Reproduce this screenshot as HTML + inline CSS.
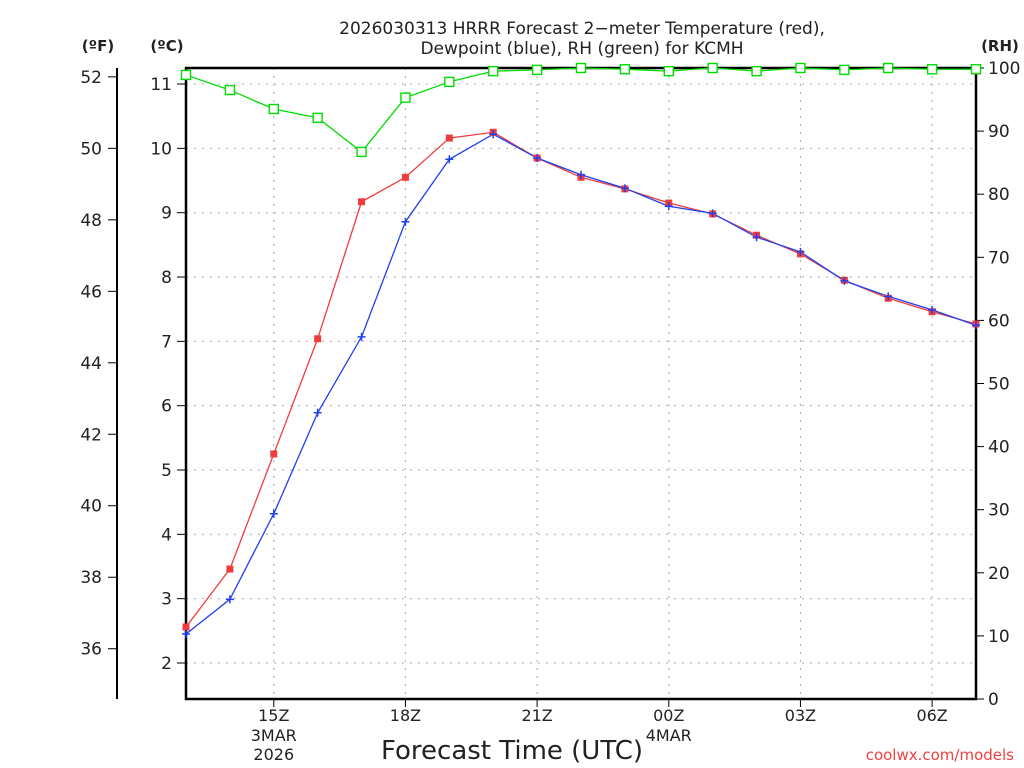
<!DOCTYPE html>
<html><head><meta charset="utf-8"><style>
body{margin:0;background:#fff;}
svg{display:block;font-family:"DejaVu Sans","Liberation Sans",sans-serif;}
</style></head><body>
<svg id="chart" width="1024" height="768" viewBox="0 0 1024 768" fill="#222">
<g font-size="17" text-anchor="middle">
<text x="582" y="34">2026030313 HRRR Forecast 2−meter Temperature (red),</text>
<text x="582" y="54">Dewpoint (blue), RH (green) for KCMH</text>
</g>
<text x="98" y="51" font-size="15" font-weight="bold" text-anchor="middle">(ºF)</text>
<text x="167" y="51" font-size="15" font-weight="bold" text-anchor="middle">(ºC)</text>
<text x="1000" y="51" font-size="15" font-weight="bold" text-anchor="middle">(RH)</text>
<text x="512" y="759" font-size="26" text-anchor="middle">Forecast Time (UTC)</text>
<text x="1014" y="760" font-size="15" fill="#f04040" text-anchor="end">coolwx.com/models</text>
<g id="grid"></g><g id="axes"></g><g id="series"></g>
</svg>
<script>
const hours=[13,14,15,16,17,18,19,20,21,22,23,24,25,26,27,28,29,30,31];
const tempC=[2.56,3.46,5.25,7.04,9.17,9.55,10.16,10.25,9.85,9.55,9.37,9.15,8.98,8.65,8.36,7.95,7.67,7.46,7.27];
const dewC=[2.45,2.99,4.32,5.89,7.07,8.86,9.83,10.22,9.85,9.59,9.38,9.10,8.99,8.62,8.39,7.94,7.70,7.49,7.25];
const rh=[98.9,96.5,93.5,92.1,86.7,95.3,97.8,99.5,99.7,100,99.8,99.5,100,99.5,100,99.7,100,99.8,99.8];
const cTicks=[2,3,4,5,6,7,8,9,10,11];
const fTicks=[36,38,40,42,44,46,48,50,52];
const rhTicks=[0,10,20,30,40,50,60,70,80,90,100];
const xTickHours=[15,18,21,24,27,30];
const xTickLabels=["15Z","18Z","21Z","00Z","03Z","06Z"];

const L=186,R=976,T=68,B=699;
const x=h=>L+(h-13)*(R-L)/18;
const yC=c=>663-(c-2)*64.33;
const yF=f=>yC((f-32)/1.8);
const yR=r=>B-r*(B-T)/100;
const NS="http://www.w3.org/2000/svg";
function mk(parent,tag,attrs){const e=document.createElementNS(NS,tag);for(const k in attrs)e.setAttribute(k,attrs[k]);document.getElementById(parent).appendChild(e);return e;}
for(const c of cTicks){const e=mk('grid','line',{x1:L,x2:R,y1:yC(c),y2:yC(c),stroke:'#aaa','stroke-dasharray':'2,6'});

}
for(const h of xTickHours){const e=mk('grid','line',{x1:x(h),x2:x(h),y1:T,y2:B,stroke:'#aaa','stroke-dasharray':'2,6'});

}
let fr=mk('axes','rect',{x:L,y:T,width:R-L,height:B-T,fill:'none',stroke:'#000','stroke-width':2.5});


for(const c of cTicks){mk('axes','line',{x1:L-9,x2:L,y1:yC(c),y2:yC(c),stroke:'#000'});
const t=mk('axes','text',{x:L-14,y:yC(c)+6,'font-size':17,'text-anchor':'end'});t.textContent=c;

}
let fl=mk('axes','line',{x1:117,x2:117,y1:T,y2:B,stroke:'#000','stroke-width':2});


for(const f of fTicks){mk('axes','line',{x1:108,x2:117,y1:yF(f),y2:yF(f),stroke:'#000'});
const t=mk('axes','text',{x:102,y:yF(f)+6,'font-size':17,'text-anchor':'end'});t.textContent=f;

}
for(const r of rhTicks){mk('axes','line',{x1:R,x2:R+8,y1:yR(r),y2:yR(r),stroke:'#000'});
const t=mk('axes','text',{x:R+12,y:yR(r)+6,'font-size':17});t.textContent=r;

}
xTickHours.forEach((h,i)=>{mk('axes','line',{x1:x(h),x2:x(h),y1:B,y2:B+8,stroke:'#000'});
const t=mk('axes','text',{x:x(h),y:721,'font-size':16,'text-anchor':'middle'});t.textContent=xTickLabels[i];

});
[["3MAR",x(15),741],["2026",x(15),760],["4MAR",x(24),741]].forEach(d=>{const t=mk('axes','text',{x:d[1],y:d[2],'font-size':16,'text-anchor':'middle'});t.textContent=d[0];

});
function line(vals,fy,col,name){const p=mk('series','polyline',{points:vals.map((v,i)=>x(hours[i])+','+fy(v)).join(' '),fill:'none',stroke:col,'stroke-width':1.3});

}
line(rh,yR,'#00dd00','rh-line');
line(tempC,yC,'#f03c3c','temperature-line');
line(dewC,yC,'#2040f0','dewpoint-line');
rh.forEach((v,i)=>{const m=mk('series','rect',{x:x(hours[i])-4.5,y:yR(v)-4.5,width:9,height:9,fill:'#fff',stroke:'#00dd00','stroke-width':1.4});

});
tempC.forEach((v,i)=>{const m=mk('series','rect',{x:x(hours[i])-3.5,y:yC(v)-3.5,width:7,height:7,fill:'#f03c3c'});

});
dewC.forEach((v,i)=>{const X=x(hours[i]),Y=yC(v);const m=mk('series','path',{d:`M${X-4},${Y}H${X+4}M${X},${Y-4}V${Y+4}`,stroke:'#2040f0','stroke-width':1.5});

});
</script>
</body></html>
